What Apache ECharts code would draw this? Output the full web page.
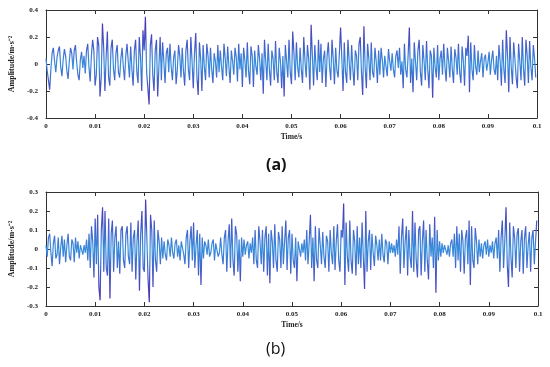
<!DOCTYPE html>
<html>
<head>
<meta charset="utf-8">
<script src="https://cdn.jsdelivr.net/npm/echarts@6/dist/echarts.min.js"></script>
<style>html,body{margin:0;padding:0;background:#fff}#c{width:550px;height:367px}</style>
</head>
<body>
<div id="c"></div>
<script>
// sampling interval (s)
const sampleInterval = 0.00025;
// tick labels
const xTicks = ['0','0.01','0.02','0.03','0.04','0.05','0.06','0.07','0.08','0.09','0.1'];
const yTicksA = ['-0.4','-0.2','0','0.2','0.4'];
const yTicksB = ['-0.3','-0.2','-0.1','0','0.1','0.2','0.3'];
const yName = 'Amplitude/m·s⁻²';
const xName = 'Time/s';
const panelLabels = ['(a)', '(b)'];

// panel (a) amplitude samples (m/s^2)
const signalA = [
  0.04,-0.05,-0.12,-0.19,-0.04,0.08,0.12,0.02,-0.06,0.05,0.1,0.13,-0.02,-0.09,0.03,0.11,
  0.06,-0.05,-0.11,0.02,0.12,0.08,-0.04,0.1,0.14,0.01,-0.08,-0.12,0.03,0.09,-0.03,0.06,
  -0.07,0.1,0.15,-0.02,-0.13,0.06,0.18,0.1,-0.16,-0.08,0.2,0.14,-0.24,-0.1,0.3,0.12,
  -0.2,0.05,0.24,-0.1,-0.16,0.12,0.18,-0.04,-0.12,0.08,0.14,-0.06,-0.1,0.04,0.12,-0.02,
  -0.12,0.06,0.15,0.02,-0.1,0.13,-0.04,-0.16,0.1,0.18,-0.06,-0.14,0.2,0.05,-0.2,0.25,
  0.1,0.35,-0.06,-0.18,-0.3,0.14,0.22,-0.08,-0.2,0.1,0.18,-0.24,-0.02,0.2,-0.12,0.16,
  0.02,-0.14,0.08,0.12,-0.06,0.15,-0.02,-0.12,0.05,0.1,-0.15,-0.04,0.14,0.06,-0.1,0.12,
  -0.05,-0.16,0.1,0.18,-0.04,-0.12,0.2,0.02,-0.18,0.08,0.23,-0.1,-0.23,0.16,0.04,-0.2,
  0.14,-0.02,-0.12,0.15,0.06,-0.1,0.12,-0.04,-0.14,0.08,0.02,-0.1,0.14,-0.06,0.1,-0.02,
  -0.12,0.15,0.04,-0.09,0.13,-0.02,-0.14,0.1,0.02,-0.08,0.12,0.05,-0.13,0.15,-0.04,0.08,
  -0.17,0.12,0.03,-0.1,0.16,-0.05,-0.15,0.13,0.06,-0.17,0.1,-0.02,-0.08,0.14,0.04,-0.12,
  0.08,-0.22,0.18,0.02,-0.12,0.15,-0.04,-0.16,0.1,0.04,-0.12,0.17,-0.06,-0.14,0.12,0.02,
  -0.18,0.06,-0.24,0.14,0.02,-0.1,0.18,-0.06,-0.15,0.24,0.08,-0.12,0.16,-0.02,-0.1,0.12,
  -0.04,-0.14,0.2,0.02,-0.1,0.14,0.04,-0.19,0.29,0.06,-0.16,0.14,-0.02,-0.12,0.18,-0.06,
  0.15,-0.14,0.04,0.1,-0.17,0.06,0.16,-0.02,-0.12,0.18,0.04,-0.15,0.12,-0.05,-0.1,0.08,
  0.27,0.04,-0.2,0.16,-0.06,-0.14,0.18,0.02,-0.12,0.14,-0.04,-0.16,0.1,0.06,-0.12,0.15,
  0.2,-0.06,-0.23,0.28,-0.02,-0.18,0.15,0.04,-0.12,0.16,-0.06,-0.1,0.12,0.02,-0.14,0.1,
  -0.08,0.12,0.03,-0.1,0.06,-0.02,-0.09,0.11,0.02,-0.05,0.08,-0.04,-0.1,0.06,0.1,-0.03,
  0.12,-0.08,0.02,-0.18,0.15,-0.04,-0.1,0.06,0.27,-0.14,0.04,-0.21,0.16,0.02,-0.12,0.1,
  0.18,-0.06,-0.16,0.14,0.02,-0.12,0.17,-0.04,-0.18,0.1,0.06,-0.25,0.12,-0.02,-0.1,0.14,
  -0.12,0.04,0.1,-0.08,0.15,-0.02,-0.13,0.12,0.02,-0.1,0.13,-0.04,-0.14,0.11,0.05,-0.08,
  0.15,-0.06,-0.14,0.13,0.02,-0.16,0.12,0.06,0.21,-0.21,0.16,-0.04,-0.12,0.14,-0.02,-0.08,
  0.1,-0.06,0.02,0.08,-0.1,0.04,0.07,-0.05,0.01,0.09,-0.08,0.03,0.1,-0.04,-0.08,0.06,
  -0.12,0.14,0.02,-0.16,0.18,-0.04,-0.14,0.25,0.06,-0.21,0.2,-0.02,-0.15,0.16,0.04,-0.1,
  -0.18,0.15,0.02,-0.12,0.2,-0.04,-0.16,0.18,0.06,-0.14,0.17,-0.02,-0.12,0.14,0.04,-0.1
];

// panel (b) amplitude samples (m/s^2)
const signalB = [
  0.02,-0.04,0.06,0.08,-0.02,-0.09,0.03,0.07,-0.05,-0.03,0.06,-0.08,0.01,0.07,-0.04,0.05,
  -0.07,0.02,0.08,-0.04,-0.06,0.05,0.03,-0.07,0.06,-0.02,0.04,-0.05,0.02,0.03,-0.03,0.02,
  -0.02,0.05,-0.06,0.08,-0.1,0.12,0.04,-0.15,0.16,-0.08,0.18,-0.2,-0.27,0.1,0.22,-0.12,
  0.2,-0.1,-0.14,0.16,-0.26,0.08,0.15,-0.12,0.06,0.12,-0.1,0.04,-0.13,0.1,0.12,-0.06,
  -0.1,0.08,0.12,-0.04,-0.08,0.14,-0.12,0.06,0.1,-0.16,0.04,0.15,-0.22,0.08,0.2,-0.1,
  -0.12,0.26,0.06,-0.16,-0.28,0.18,0.1,-0.2,0.15,-0.06,-0.12,0.1,0.04,-0.08,0.06,-0.05,
  0.04,-0.03,-0.06,0.05,0.02,-0.04,0.06,-0.02,-0.05,0.03,0.05,-0.04,0.02,-0.06,0.04,0.05,
  -0.03,-0.08,0.06,0.1,-0.1,0.04,0.12,-0.06,0.14,-0.1,0.02,0.1,-0.14,0.08,-0.19,0.06,
  -0.05,0.04,0.02,-0.03,0.05,-0.04,-0.02,0.03,0.05,-0.06,0.03,0.04,-0.04,-0.02,0.06,-0.03,
  -0.08,0.06,0.1,-0.12,0.04,0.13,-0.1,0.16,-0.06,-0.14,0.12,0.08,-0.12,0.05,-0.17,0.06,
  -0.04,0.05,-0.03,0.02,0.04,-0.05,0.03,-0.02,0.06,-0.08,0.1,-0.06,-0.1,0.12,0.04,-0.08,
  0.1,-0.12,0.06,0.12,-0.14,0.08,-0.18,0.1,0.04,-0.1,0.13,-0.06,-0.12,0.09,0.05,-0.1,
  0.12,-0.08,0.04,0.15,-0.11,0.06,0.1,-0.13,0.08,-0.06,-0.1,0.06,-0.17,0.04,0.03,-0.04,
  0.03,-0.02,0.05,-0.06,0.1,-0.08,0.04,0.18,-0.1,0.06,-0.17,0.12,-0.06,-0.1,0.11,0.02,
  -0.08,0.09,-0.04,-0.1,0.07,0.04,-0.12,0.1,-0.02,-0.08,0.12,-0.11,0.04,0.13,-0.06,-0.12,
  0.1,0.06,0.24,-0.19,0.14,-0.04,-0.12,0.15,-0.06,-0.13,0.1,0.04,-0.14,0.12,-0.08,0.06,
  -0.1,0.14,-0.04,-0.21,0.2,-0.12,0.04,0.1,-0.11,0.08,-0.02,-0.09,0.07,0.02,-0.06,0.05,
  -0.06,0.08,-0.03,-0.07,0.05,0.03,-0.08,0.04,-0.02,0.03,-0.02,0.02,-0.04,0.05,-0.03,0.12,
  -0.13,0.06,0.16,-0.1,0.04,0.12,-0.14,0.1,-0.04,-0.1,0.2,-0.12,0.14,-0.06,-0.15,0.1,
  0.12,-0.14,0.04,0.15,-0.12,0.1,-0.06,-0.16,0.13,-0.04,0.06,-0.1,0.17,-0.23,0.1,-0.06,
  0.04,-0.04,0.03,-0.02,0.02,0.03,-0.03,0.02,-0.04,0.03,0.05,-0.04,0.08,-0.1,0.12,-0.06,
  0.08,-0.12,0.1,0.04,-0.13,0.06,0.1,-0.08,0.15,-0.19,0.12,-0.06,-0.1,0.11,0.04,-0.08,
  0.05,-0.04,0.03,-0.05,0.02,0.04,-0.03,0.05,-0.04,0.02,-0.02,0.04,-0.05,0.03,0.06,-0.05,
  0.1,-0.12,0.06,0.15,-0.1,0.04,0.22,-0.08,-0.2,0.14,-0.04,-0.15,0.12,0.06,-0.1,0.08,
  0.11,-0.12,0.04,0.1,-0.13,0.06,0.12,-0.1,0.02,0.09,-0.12,0.06,0.1,-0.08,0.04,0.15
];

const toPairs = arr => arr.map((v, i) => [+(i * sampleInterval).toFixed(6), v]);

const serif = 'Liberation Serif';
const axisColor = '#333';
const labelStyle = {fontFamily: serif, fontSize: 7, fontWeight: 'bold', color: '#222'};

function fmtX(v) { const i = Math.round(v * 100); return xTicks[i] !== undefined ? xTicks[i] : ''; }
function fmtYA(v) { const i = Math.round((v + 0.4) / 0.2); return yTicksA[i] || ''; }
function fmtYB(v) { const i = Math.round((v + 0.3) / 0.1); return yTicksB[i] || ''; }

function xAxes(gi) {
  return [
    {gridIndex: gi, type: 'value', min: 0, max: 0.1, interval: 0.01,
     name: xName, nameLocation: 'middle', nameGap: 15,
     nameTextStyle: {fontFamily: serif, fontSize: 7.5, fontWeight: 'bold', color: '#222'},
     axisLine: {onZero: false, lineStyle: {color: axisColor, width: 1}},
     axisTick: {inside: true, length: 4, lineStyle: {color: axisColor}},
     axisLabel: Object.assign({formatter: fmtX, margin: 5}, labelStyle),
     splitLine: {show: false}},
    {gridIndex: gi, type: 'value', position: 'top', min: 0, max: 0.1, interval: 0.01,
     axisLine: {onZero: false, lineStyle: {color: axisColor, width: 1}},
     axisTick: {inside: true, length: 4, lineStyle: {color: axisColor}},
     axisLabel: {show: false}, splitLine: {show: false}}
  ];
}
function yAxes(gi, min, max, interval, fmt) {
  return [
    {gridIndex: gi, type: 'value', min: min, max: max, interval: interval,
     name: yName, nameLocation: 'middle', nameGap: 26, nameRotate: 90,
     nameTextStyle: {fontFamily: serif, fontSize: 8, fontWeight: 'bold', color: '#222'},
     axisLine: {show: true, onZero: false, lineStyle: {color: axisColor, width: 1}},
     axisTick: {show: true, inside: true, length: 4, lineStyle: {color: axisColor}},
     axisLabel: Object.assign({formatter: fmt, margin: 8}, labelStyle),
     splitLine: {show: false}},
    {gridIndex: gi, type: 'value', position: 'right', min: min, max: max, interval: interval,
     axisLine: {show: true, onZero: false, lineStyle: {color: axisColor, width: 1}},
     axisTick: {show: true, inside: true, length: 4, lineStyle: {color: axisColor}},
     axisLabel: {show: false}, splitLine: {show: false}}
  ];
}

const lineColors = ['#4a36b0', '#4458c8', '#3a8edc', '#4458c8', '#4a36b0'];

const chart = echarts.init(document.getElementById('c'), null, {renderer: 'canvas'});
chart.setOption({
  animation: false,
  backgroundColor: '#fff',
  grid: [
    {left: 43, top: 10, width: 494, height: 108},
    {left: 43, top: 192, width: 495, height: 114}
  ],
  xAxis: xAxes(0).concat(xAxes(1)),
  yAxis: yAxes(0, -0.4, 0.4, 0.2, fmtYA).concat(yAxes(1, -0.3, 0.3, 0.1, fmtYB)),
  visualMap: [
    {show: false, type: 'continuous', seriesIndex: 0, dimension: 1, min: -0.3, max: 0.3, inRange: {color: lineColors}},
    {show: false, type: 'continuous', seriesIndex: 1, dimension: 1, min: -0.25, max: 0.25, inRange: {color: lineColors}}
  ],
  series: [
    {type: 'line', xAxisIndex: 0, yAxisIndex: 0, data: toPairs(signalA), showSymbol: false,
     lineStyle: {width: 1.2}},
    {type: 'line', xAxisIndex: 2, yAxisIndex: 2, data: toPairs(signalB), showSymbol: false,
     lineStyle: {width: 1.2}}
  ],
  graphic: [
    {type: 'text', left: 266, top: 157, style: {text: panelLabels[0], font: 'bold 16px "Open Sans"', fill: '#111'}},
    {type: 'text', left: 266, top: 341, style: {text: panelLabels[1], font: '16px "Open Sans"', fill: '#111'}}
  ]
});
</script>
</body>
</html>
